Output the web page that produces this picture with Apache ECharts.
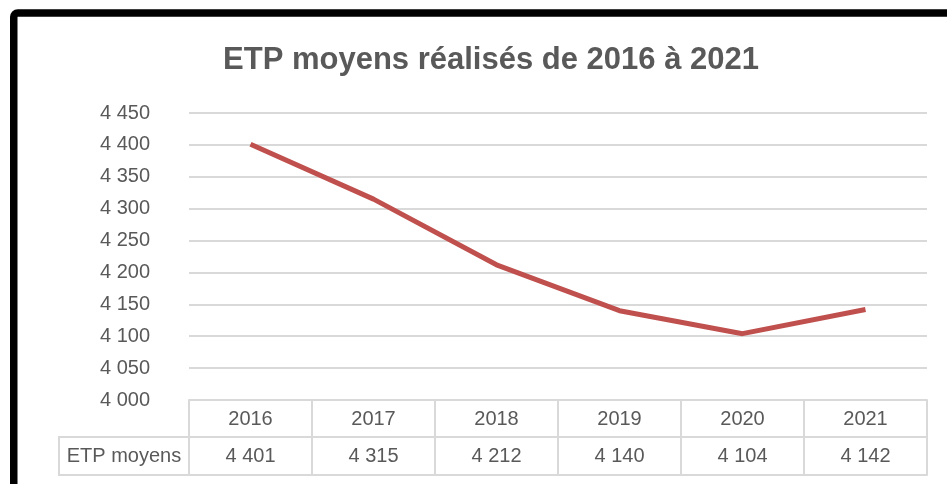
<!DOCTYPE html>
<html>
<head>
<meta charset="utf-8">
<script src="https://cdn.jsdelivr.net/npm/echarts@6/dist/echarts.min.js"></script>
<style>
  html, body { margin: 0; padding: 0; background: #fff; }
  #chart { width: 947px; height: 484px; }
</style>
</head>
<body>
<div id="chart"></div>
<script>
const years = ["2016", "2017", "2018", "2019", "2020", "2021"];
const etpValues = [4401, 4315, 4212, 4140, 4104, 4142];
const seriesName = "ETP moyens";

const TEXT = "#595959";
const GRID = "#d9d9d9";
const FONT = "Liberation Sans";

// format "4 401" (espace comme séparateur de milliers)
const fmt = (v) => String(v).replace(/\B(?=(\d{3})+(?!\d))/g, " ");

const chart = echarts.init(document.getElementById("chart"), null, { renderer: "canvas" });

const option = {
  backgroundColor: "#fff",
  animation: false,
  title: {
    text: "ETP moyens réalisés de 2016 à 2021",
    left: 486,
    top: 40,
    textAlign: "center",
    textStyle: { color: TEXT, fontFamily: FONT, fontWeight: "bold", fontSize: 31 },
  },
  grid: { left: 189, right: 20, top: 113, bottom: 84 },
  xAxis: [
    {
      type: "category",
      data: years,
      boundaryGap: true,
      axisLine: { show: true, lineStyle: { color: GRID, width: 2 } },
      axisTick: { show: true, interval: 0, length: 75, lineStyle: { color: GRID, width: 2 } },
      axisLabel: { margin: 9, color: TEXT, fontFamily: FONT, fontSize: 20 },
      splitLine: { show: false },
    },
    {
      type: "category",
      data: etpValues.map(fmt),
      position: "bottom",
      offset: 37,
      boundaryGap: true,
      axisLine: { show: true, lineStyle: { color: GRID, width: 2 } },
      axisTick: { show: false },
      axisLabel: { margin: 9, color: TEXT, fontFamily: FONT, fontSize: 20 },
    },
    {
      type: "category",
      data: years,
      position: "bottom",
      offset: 75,
      axisLine: { show: true, lineStyle: { color: GRID, width: 2 } },
      axisTick: { show: false },
      axisLabel: { show: false },
    },
  ],
  yAxis: {
    type: "value",
    min: 4000,
    max: 4450,
    interval: 50,
    axisLine: { show: false },
    axisTick: { show: false },
    splitLine: { lineStyle: { color: GRID, width: 2 } },
    axisLabel: { margin: 39, color: TEXT, fontFamily: FONT, fontSize: 20, formatter: fmt },
  },
  series: [
    {
      name: seriesName,
      type: "line",
      data: etpValues,
      symbol: "none",
      lineStyle: { color: "#c0504d", width: 5 },
    },
  ],
  graphic: [
    {
      type: "rect",
      shape: { x: 13.75, y: 13, width: 1000, height: 1000, r: 4 },
      style: { fill: "none", stroke: "#000", lineWidth: 7.5 },
    },
    {
      type: "rect",
      shape: { x: 59, y: 437, width: 130, height: 38 },
      style: { fill: "none", stroke: GRID, lineWidth: 2 },
    },
    {
      type: "text",
      x: 124,
      y: 456,
      style: {
        text: seriesName,
        fill: TEXT,
        font: "20px " + FONT,
        align: "center",
        verticalAlign: "middle",
      },
    },
  ],
};

chart.setOption(option);
</script>
</body>
</html>
